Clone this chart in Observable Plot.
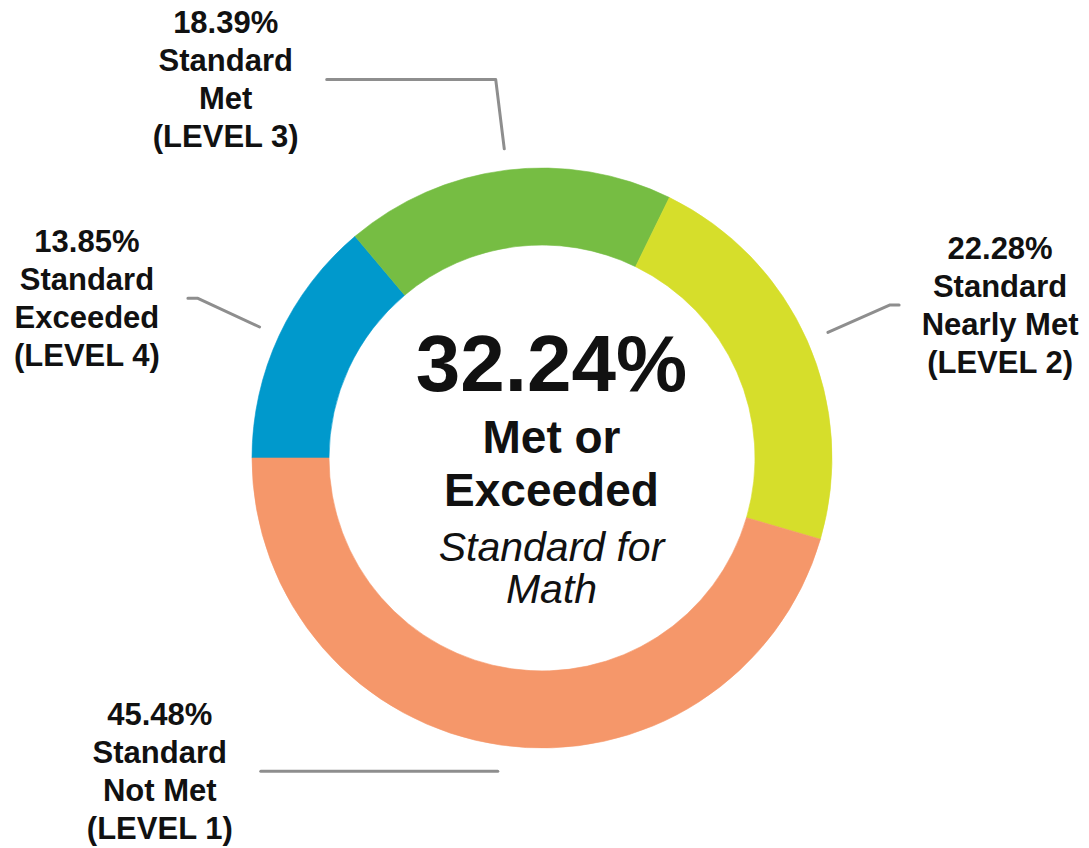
<!DOCTYPE html>
<html>
<head>
<meta charset="utf-8">
<script src="https://cdn.jsdelivr.net/npm/d3@7"></script>
<script src="https://cdn.jsdelivr.net/npm/@observablehq/plot@0.6"></script>
<style>
  html, body { margin: 0; padding: 0; background: #fff; }
  #chart svg { display: block; }
</style>
</head>
<body>
<div id="chart"></div>
<script>
// ---------- data ----------
const levels = ["LEVEL 4", "LEVEL 3", "LEVEL 2", "LEVEL 1"];
const categories = ["Standard\nExceeded", "Standard\nMet", "Standard\nNearly Met", "Standard\nNot Met"];
const percents = [13.85, 18.39, 22.28, 45.48];
const colors = ["#0099cc", "#76bd43", "#d6de2b", "#f5976a"];
const centerTitle = ["Met or", "Exceeded"];
const centerSubtitle = ["Standard for", "Math"];

// ---------- layout ----------
const W = 1089, H = 848;
const cx = 542, cy = 458;          // donut centre in pixels
const rOuter = 290, rInner = 213;
// leader lines: start radius, elbow radius, horizontal run, label side
const leaderR0 = [312, 312, 312, 316];
const leaderR1 = [380, 382, 380, 316];
const leaderRun = [-10, -169, 9, -237];
const labelSide = [-1, -1, 1, -1];

// ---------- derived ----------
const slices = percents.map((v, i) => ({value: v, color: colors[i], level: levels[i], name: categories[i], i}));
const arcs = d3.pie().sort(null).value(d => d.value)
  .startAngle(-Math.PI / 2).endAngle(1.5 * Math.PI)(slices);
const polar = (a, r) => ({x: r * Math.sin(a), y: -r * Math.cos(a)});

const leaderPts = [];
const labels = [];
arcs.forEach((a, i) => {
  const mid = (a.startAngle + a.endAngle) / 2;
  const p0 = polar(mid, leaderR0[i]);
  const p1 = polar(mid, leaderR1[i]);
  const p2 = {x: p1.x + leaderRun[i], y: p1.y};
  [p0, p1, p2].forEach(p => leaderPts.push({id: i, x: p.x, y: p.y}));
  labels.push({
    x: p2.x + labelSide[i] * 101,
    y: p2.y + 68,
    text: `${a.data.value.toFixed(2)}%\n${a.data.name}\n(${a.data.level})`
  });
});

const metOrExceeded = percents[0] + percents[1];

function donut(index, scales) {
  const x0 = scales.x(0), y0 = scales.y(0);
  const k = scales.x(1) - scales.x(0);
  const arc = d3.arc().innerRadius(rInner * k).outerRadius(rOuter * k);
  const g = d3.create("svg:g").attr("transform", `translate(${x0},${y0})`);
  g.selectAll("path").data(arcs).join("path")
    .attr("d", arc)
    .attr("fill", d => d.data.color)
    .attr("stroke", d => d.data.color)
    .attr("stroke-width", 0.6);
  return g.node();
}

const font = "'Liberation Sans', Arial, Helvetica, sans-serif";

const chart = Plot.plot({
  width: W,
  height: H,
  margin: 0,
  style: {fontFamily: font, background: "#fff", color: "#111"},
  x: {domain: [-cx, W - cx], axis: null},
  y: {domain: [-cy, H - cy], reverse: true, axis: null},
  marks: [
    donut,
    Plot.line(leaderPts, {x: "x", y: "y", z: "id", stroke: "#8e8e8e", strokeWidth: 3}),
    Plot.text(labels, {
      x: "x", y: "y", text: "text",
      fontSize: 31, fontWeight: "bold", lineHeight: 38 / 31,
      lineAnchor: "bottom", textAnchor: "middle", fill: "#111"
    }),
    Plot.text([metOrExceeded], {
      x: 0, y: 0, dx: 9, dy: -68, text: d => d.toFixed(2) + "%",
      fontSize: 80, fontWeight: "bold", lineAnchor: "bottom", fill: "#111"
    }),
    Plot.text([centerTitle.join("\n")], {
      x: 0, y: 0, dx: 9, dy: 47, text: d => d,
      fontSize: 46, fontWeight: "bold", lineHeight: 53 / 46, lineAnchor: "bottom", fill: "#111"
    }),
    Plot.text([centerSubtitle.join("\n")], {
      x: 0, y: 0, dx: 9, dy: 144, text: d => d,
      fontSize: 41, fontStyle: "italic", lineHeight: 42 / 41, lineAnchor: "bottom", fill: "#111"
    })
  ]
});

document.getElementById("chart").appendChild(chart);
</script>
</body>
</html>
